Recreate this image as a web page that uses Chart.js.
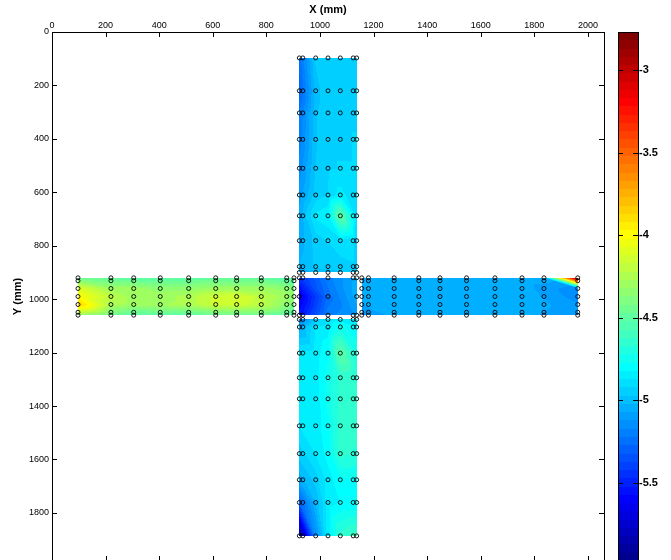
<!DOCTYPE html>
<html>
<head>
<meta charset="utf-8">
<title>Cross section contour</title>
<script src="https://cdn.jsdelivr.net/npm/chart.js@4.4.0/dist/chart.umd.min.js"></script>
<style>
    html, body { margin: 0; padding: 0; background: #fff; overflow: hidden; }
    #wrap { width: 671px; height: 560px; overflow: hidden; }
</style>
</head>
<body>
<div id="wrap"><canvas id="chart" width="671" height="600"></canvas></div>
<script>
        // Axis ticks and limits
        const xTicks = [0, 200, 400, 600, 800, 1000, 1200, 1400, 1600, 1800, 2000];
        const yTicks = [0, 200, 400, 600, 800, 1000, 1200, 1400, 1600, 1800];
        const cbTicks = [-5.5, -5, -4.5, -4, -3.5, -3];
        const xLimits = [0, 2060];
        const yLimits = [0, 1980];
        const cLimits = [-5.974, -2.770];

        // Vertical arm: contour columns and sensor columns (x, mm)
        const vArmX = [923, 984, 1030, 1076, 1137];
        const vArmMarkX = [923, 936, 984, 1030, 1076, 1124, 1137];
        const upperY = [97, 220, 303, 402, 510, 610, 688, 781, 878, 900];
        const lowerY = [1076, 1104, 1202, 1294, 1373, 1474, 1578, 1676, 1761, 1886];

        // Horizontal arm: contour rows and sensor rows (y, mm)
        const hArmY = [920, 960, 990, 1020, 1060];
        const hArmMarkY = [920, 931, 960, 990, 1020, 1049, 1060];
        const leftX = [97, 220, 305, 404, 510, 611, 689, 781, 876, 903];
        const rightX = [1156, 1181, 1277, 1369, 1448, 1547, 1653, 1754, 1836, 1962];

        // Centre block
        const centreX = [923, 1030, 1137];
        const centreY = [920, 990, 1060];
        const centreEdgeMarkX = [923, 936, 1030, 1124, 1137];
        const centreMidMarkX = [923, 1030, 1137];

        // Measured values, rows follow the y list, columns the x list
        const upperVals = [
            [-5.25, -4.96, -4.93, -4.93, -4.93],
            [-5.30, -5.00, -4.93, -4.93, -4.93],
            [-5.22, -4.98, -4.93, -4.93, -4.93],
            [-5.20, -4.98, -4.93, -4.93, -4.92],
            [-5.15, -4.97, -4.93, -4.92, -4.92],
            [-5.10, -4.95, -4.92, -4.85, -4.92],
            [-5.05, -4.86, -4.83, -4.48, -4.88],
            [-5.05, -4.95, -4.92, -4.88, -4.93],
            [-5.02, -4.96, -4.95, -4.95, -4.93],
            [-5.10, -5.00, -5.00, -4.98, -4.95]
        ];
        const lowerVals = [
            [-5.20, -4.95, -4.87, -4.85, -4.87],
            [-5.05, -4.87, -4.85, -4.75, -4.82],
            [-4.87, -4.85, -4.78, -4.50, -4.72],
            [-4.87, -4.85, -4.75, -4.65, -4.68],
            [-4.87, -4.85, -4.75, -4.65, -4.65],
            [-4.87, -4.85, -4.78, -4.65, -4.65],
            [-4.95, -4.87, -4.80, -4.65, -4.68],
            [-5.05, -4.95, -4.85, -4.78, -4.78],
            [-5.30, -5.02, -4.85, -4.82, -4.82],
            [-5.97, -5.15, -4.85, -4.65, -4.60]
        ];
        const leftVals = [
            [-4.45, -4.50, -4.52, -4.52, -4.52, -4.50, -4.50, -4.50, -4.55, -4.57],
            [-4.10, -4.30, -4.30, -4.35, -4.35, -4.30, -4.30, -4.30, -4.35, -4.40],
            [-4.00, -4.20, -4.30, -4.30, -4.25, -4.15, -4.12, -4.20, -4.30, -4.35],
            [-3.85, -4.25, -4.30, -4.28, -4.25, -4.15, -4.15, -4.20, -4.35, -4.40],
            [-4.30, -4.45, -4.52, -4.52, -4.52, -4.47, -4.47, -4.47, -4.52, -4.57]
        ];
        const rightVals = [
            [-5.05, -5.04, -5.04, -5.04, -5.04, -5.04, -5.04, -5.04, -5.04, -2.77],
            [-5.05, -5.04, -5.04, -5.04, -5.04, -5.04, -5.04, -5.04, -5.10, -5.15],
            [-5.06, -5.04, -5.04, -5.04, -5.04, -5.04, -5.04, -5.04, -5.08, -5.15],
            [-5.08, -5.05, -5.04, -5.04, -5.04, -5.04, -5.04, -5.04, -5.06, -5.12],
            [-5.15, -5.12, -5.05, -5.04, -5.04, -5.04, -5.04, -5.04, -5.08, -5.12]
        ];
        const centreVals = [
            [-5.45, -5.20, -5.05],
            [-5.65, -5.25, -5.05],
            [-5.55, -5.20, -5.10]
        ];

        const patches = [
            { xs: vArmX, ys: upperY, v: upperVals },
            { xs: vArmX, ys: lowerY, v: lowerVals },
            { xs: leftX, ys: hArmY, v: leftVals },
            { xs: rightX, ys: hArmY, v: rightVals },
            { xs: centreX, ys: centreY, v: centreVals }
        ];

        function gridPoints(xs, ys) {
            const pts = [];
            ys.forEach(y => xs.forEach(x => pts.push({ x, y })));
            return pts;
        }

        const markers = [
            ...gridPoints(vArmMarkX, upperY),
            ...gridPoints(vArmMarkX, lowerY),
            ...gridPoints(leftX, hArmMarkY),
            ...gridPoints(rightX, hArmMarkY),
            ...gridPoints(centreEdgeMarkX, [centreY[0], centreY[2]]),
            ...gridPoints(centreMidMarkX, [centreY[1]])
        ];

        // MATLAB style jet colormap
        function jetMap(n) {
            const m = Math.ceil(n / 4);
            const u = [];
            for (let i = 1; i <= m; i++) u.push(i / m);
            for (let i = 1; i < m; i++) u.push(1);
            for (let i = m; i >= 1; i--) u.push(i / m);
            const off = Math.ceil(m / 2) - (n % 4 === 1 ? 1 : 0);
            const at = i => (i >= 1 && i <= u.length) ? u[i - 1] : 0;
            const cmap = [];
            for (let k = 1; k <= n; k++) {
                cmap.push([at(k - off - m), at(k - off), at(k - off + m)].map(c => Math.round(c * 255)));
            }
            return cmap;
        }
        const jet = jetMap(64);

        function colourIndex(v) {
            const k = Math.floor((v - cLimits[0]) / (cLimits[1] - cLimits[0]) * jet.length);
            return Math.max(0, Math.min(jet.length - 1, k));
        }

        function fillTri(img, w, h, A, B, C) {
            const minX = Math.max(0, Math.floor(Math.min(A[0], B[0], C[0])));
            const maxX = Math.min(w - 1, Math.ceil(Math.max(A[0], B[0], C[0])));
            const minY = Math.max(0, Math.floor(Math.min(A[1], B[1], C[1])));
            const maxY = Math.min(h - 1, Math.ceil(Math.max(A[1], B[1], C[1])));
            const den = (B[1] - C[1]) * (A[0] - C[0]) + (C[0] - B[0]) * (A[1] - C[1]);
            if (Math.abs(den) < 1e-9) return;
            for (let py = minY; py <= maxY; py++) {
                for (let px = minX; px <= maxX; px++) {
                    const cx = px + 0.5, cy = py + 0.5;
                    const l1 = ((B[1] - C[1]) * (cx - C[0]) + (C[0] - B[0]) * (cy - C[1])) / den;
                    const l2 = ((C[1] - A[1]) * (cx - C[0]) + (A[0] - C[0]) * (cy - C[1])) / den;
                    const l3 = 1 - l1 - l2;
                    if (l1 < -1e-6 || l2 < -1e-6 || l3 < -1e-6) continue;
                    const col = jet[colourIndex(l1 * A[2] + l2 * B[2] + l3 * C[2])];
                    const o = (py * w + px) * 4;
                    img.data[o] = col[0];
                    img.data[o + 1] = col[1];
                    img.data[o + 2] = col[2];
                    img.data[o + 3] = 255;
                }
            }
        }

        // Filled contour patches, drawn under the sensor markers
        const contourFill = {
            id: 'contourFill',
            beforeDatasetsDraw(chart) {
                const { ctx, scales: { x, y } } = chart;
                const w = chart.width, h = chart.height;
                const off = document.createElement('canvas');
                off.width = w;
                off.height = h;
                const octx = off.getContext('2d');
                const img = octx.createImageData(w, h);
                patches.forEach(p => {
                    const P = (j, i) => [x.getPixelForValue(p.xs[i]), y.getPixelForValue(p.ys[j]), p.v[j][i]];
                    for (let j = 0; j < p.ys.length - 1; j++) {
                        for (let i = 0; i < p.xs.length - 1; i++) {
                            const a = P(j, i), b = P(j, i + 1), c = P(j + 1, i + 1), d = P(j + 1, i);
                            fillTri(img, w, h, a, b, c);
                            fillTri(img, w, h, a, c, d);
                        }
                    }
                });
                octx.putImageData(img, 0, 0);
                ctx.drawImage(off, 0, 0, w, h);
            }
        };

        // Box with inward ticks, plus the colour bar
        const axesFrame = {
            id: 'axesFrame',
            afterDraw(chart) {
                const { ctx, chartArea: ca, scales: { x, y, cb } } = chart;
                const len = 5;
                ctx.save();
                ctx.strokeStyle = '#000';
                ctx.lineWidth = 1;
                ctx.strokeRect(ca.left + 0.5, ca.top + 0.5, ca.right - ca.left, ca.bottom - ca.top);
                ctx.beginPath();
                xTicks.forEach(v => {
                    const px = Math.round(x.getPixelForValue(v)) + 0.5;
                    ctx.moveTo(px, ca.top); ctx.lineTo(px, ca.top + len);
                    ctx.moveTo(px, ca.bottom); ctx.lineTo(px, ca.bottom - len);
                });
                yTicks.forEach(v => {
                    const py = Math.round(y.getPixelForValue(v)) + 0.5;
                    ctx.moveTo(ca.left, py); ctx.lineTo(ca.left + len, py);
                    ctx.moveTo(ca.right, py); ctx.lineTo(ca.right - len, py);
                });
                ctx.stroke();

                // colour bar
                const bx = cb.left + 14, bw = 20;
                const [lo, hi] = cLimits;
                const step = (hi - lo) / jet.length;
                jet.forEach((c, k) => {
                    const yTop = Math.round(cb.getPixelForValue(lo + (k + 1) * step));
                    const yBot = Math.round(cb.getPixelForValue(lo + k * step));
                    ctx.fillStyle = `rgb(${c[0]},${c[1]},${c[2]})`;
                    ctx.fillRect(bx, yTop, bw, yBot - yTop);
                });
                ctx.strokeRect(bx + 0.5, cb.top + 0.5, bw, cb.bottom - cb.top);
                ctx.beginPath();
                cbTicks.forEach(v => {
                    const py = Math.round(cb.getPixelForValue(v)) + 0.5;
                    ctx.moveTo(bx, py); ctx.lineTo(bx + len, py);
                    ctx.moveTo(bx + bw, py); ctx.lineTo(bx + bw - len, py);
                });
                ctx.stroke();
                ctx.restore();
            }
        };

        const fontFamily = '"Liberation Sans", Arial, Helvetica, sans-serif';
        const setTicks = list => scale => { scale.ticks = list.map(v => ({ value: v })); };
        // fixed box sizes, and no extra label padding pushed into the layout
        const fixSize = (prop, size) => s => {
            s[prop] = size;
            s.paddingTop = 0; s.paddingBottom = 0; s.paddingLeft = 0; s.paddingRight = 0;
        };

        new Chart(document.getElementById('chart'), {
            type: 'scatter',
            data: {
                datasets: [{
                    data: markers,
                    xAxisID: 'x',
                    yAxisID: 'y',
                    pointStyle: 'circle',
                    pointRadius: 2,
                    pointBorderWidth: 0.9,
                    pointBorderColor: '#000',
                    pointBackgroundColor: 'rgba(0,0,0,0)'
                }]
            },
            options: {
                responsive: false,
                animation: false,
                devicePixelRatio: 1,
                events: [],
                layout: { padding: { left: 0, right: 0, top: 0, bottom: 39 } },
                plugins: { legend: { display: false }, tooltip: { enabled: false } },
                scales: {
                    x: {
                        type: 'linear',
                        position: 'top',
                        min: xLimits[0],
                        max: xLimits[1],
                        afterBuildTicks: setTicks(xTicks),
                        afterFit: fixSize('height', 32),
                        grid: { display: false, drawTicks: false },
                        border: { display: false },
                        ticks: {
                            autoSkip: false, maxRotation: 0, padding: 1, color: '#000',
                            font: { family: fontFamily, size: 9 },
                            callback: v => String(v)
                        },
                        title: {
                            display: true, text: 'X (mm)', color: '#000',
                            padding: { top: 3, bottom: 0 },
                            font: { family: fontFamily, size: 11, weight: 'bold' }
                        }
                    },
                    y: {
                        type: 'linear',
                        position: 'left',
                        reverse: true,
                        min: yLimits[0],
                        max: yLimits[1],
                        afterBuildTicks: setTicks(yTicks),
                        afterFit: fixSize('width', 52),
                        grid: { display: false, drawTicks: false },
                        border: { display: false },
                        ticks: {
                            autoSkip: false, padding: 3, color: '#000',
                            font: { family: fontFamily, size: 9 },
                            callback: v => String(v)
                        },
                        title: {
                            display: true, text: 'Y (mm)', color: '#000',
                            padding: { top: 11, bottom: 0 },
                            font: { family: fontFamily, size: 11, weight: 'bold' }
                        }
                    },
                    cb: {
                        type: 'linear',
                        axis: 'y',
                        position: 'right',
                        min: cLimits[0],
                        max: cLimits[1],
                        afterBuildTicks: setTicks(cbTicks),
                        afterFit: fixSize('width', 67),
                        grid: { display: false, drawTicks: false },
                        border: { display: false },
                        ticks: {
                            autoSkip: false, padding: 35, color: '#000',
                            font: { family: fontFamily, size: 11, weight: 'bold' },
                            callback: v => String(v)
                        }
                    }
                }
            },
            plugins: [contourFill, axesFrame]
        });
</script>
</body>
</html>
